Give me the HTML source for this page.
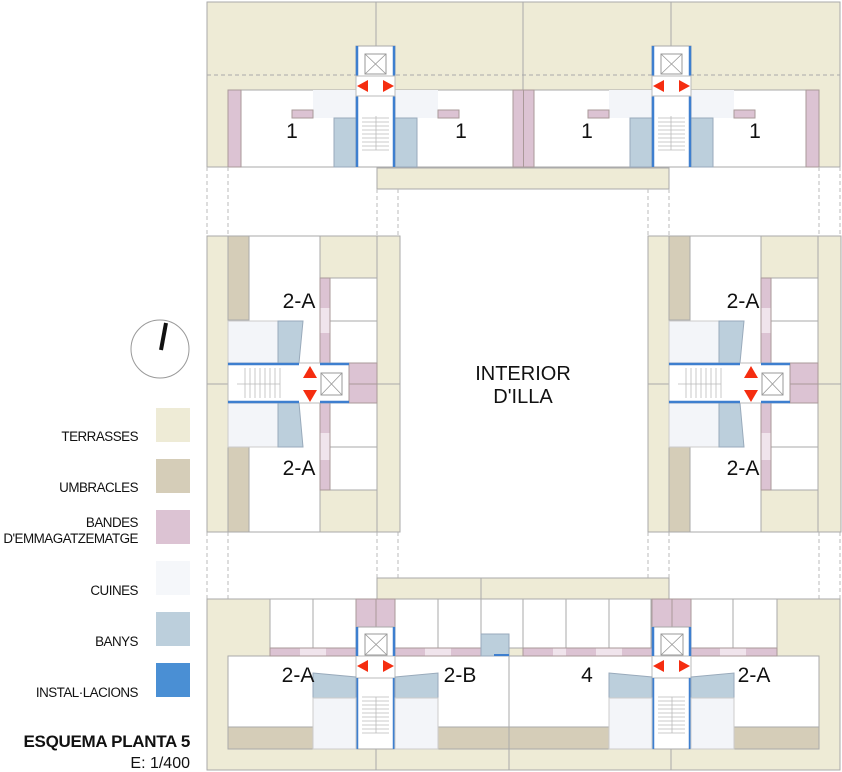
<!DOCTYPE html>
<html><head><meta charset="utf-8"><style>
html,body{margin:0;padding:0;background:#fff;}
svg{display:block;}
text{font-family:"Liberation Sans",Arial,sans-serif;fill:#111;}
</style></head><body>
<svg width="842" height="772" viewBox="0 0 842 772" xmlns="http://www.w3.org/2000/svg">
<defs>
<g id="topmod">
  <rect x="228" y="90" width="295" height="77" fill="#fff" stroke="#aaa"/>
  <rect x="228" y="90" width="13" height="77" fill="#dcc3d3" stroke="#a99"/>
  <rect x="513" y="90" width="10.5" height="77" fill="#dcc3d3" stroke="#a99"/>
  <rect x="313" y="90" width="125" height="28" fill="#f3f5f9"/>
  <rect x="292" y="110" width="21" height="8" fill="#dcc3d3" stroke="#a99"/>
  <rect x="438" y="110" width="21" height="8" fill="#dcc3d3" stroke="#a99"/>
  <rect x="334" y="118" width="23" height="49" fill="#bccfdc" stroke="#9ab"/>
  <rect x="395" y="118" width="22" height="49" fill="#bccfdc" stroke="#9ab"/>
  <rect x="356" y="46" width="39" height="121" fill="#fff" stroke="#aaa"/>
  <rect x="365" y="54" width="21" height="20" fill="#fff" stroke="#999"/>
  <path d="M365 54L386 74M386 54L365 74" stroke="#999" stroke-width="0.8"/>
  <path d="M362 118H389M362 122H389M362 126H389M362 130H389M362 134H389M362 138H389M362 142H389M362 146H389M362 150H389M376 116V150" stroke="#bbb" stroke-width="0.8"/>
  <line x1="357" y1="46" x2="357" y2="76" stroke="#3e7fcf" stroke-width="2.5"/>
  <line x1="394" y1="46" x2="394" y2="76" stroke="#3e7fcf" stroke-width="2.5"/>
  <line x1="357" y1="96" x2="357" y2="167" stroke="#3e7fcf" stroke-width="2.5"/>
  <line x1="394" y1="96" x2="394" y2="167" stroke="#3e7fcf" stroke-width="2.5"/>
  <rect x="356" y="76" width="39" height="20" fill="#fff" stroke="#bbb"/>
  <polygon points="357,86 368,80 368,92" fill="#f52d10"/>
  <polygon points="394,86 383,80 383,92" fill="#f52d10"/>
</g>
<g id="sidemod">
  <rect x="207" y="236" width="21" height="296" fill="#eeebd6" stroke="#aaa"/>
  <rect x="228" y="236" width="21" height="84" fill="#d5cdb8" stroke="#aaa"/>
  <rect x="228" y="447" width="21" height="85" fill="#d5cdb8" stroke="#aaa"/>
  <rect x="249" y="236" width="71" height="296" fill="#fff" stroke="#aaa"/>
  <rect x="320" y="236" width="80" height="42" fill="#eeebd6" stroke="#aaa"/>
  <rect x="320" y="490" width="80" height="42" fill="#eeebd6" stroke="#aaa"/>
  <rect x="377" y="236" width="23" height="296" fill="#eeebd6" stroke="#aaa"/>
  <line x1="207" y1="384" x2="228" y2="384" stroke="#aaa"/>
  <line x1="377" y1="384" x2="400" y2="384" stroke="#aaa"/>
  <rect x="330" y="278" width="47" height="212" fill="#fff" stroke="#aaa"/>
  <path d="M330 321H377M330 447H377" stroke="#aaa"/>
  <rect x="320" y="278" width="10" height="212" fill="#dcc3d3" stroke="#a99"/>
  <rect x="320.5" y="308" width="9" height="25" fill="#f0e4ec"/>
  <rect x="320.5" y="433" width="9" height="27" fill="#f0e4ec"/>
  <rect x="228" y="321" width="50" height="42" fill="#f3f5f9" stroke="#ccc"/>
  <rect x="228" y="403" width="50" height="44" fill="#f3f5f9" stroke="#ccc"/>
  <polygon points="278,321 303,321 299,363 278,363" fill="#bccfdc" stroke="#9ab"/>
  <polygon points="278,403 299,403 303,447 278,447" fill="#bccfdc" stroke="#9ab"/>
  <rect x="228" y="363" width="121" height="40" fill="#fff" stroke="#bbb"/>
  <path d="M245 368V398M250 368V398M255 368V398M260 368V398M265 368V398M270 368V398M275 368V398M280 368V398M237 384H280" stroke="#bbb" stroke-width="0.8"/>
  <rect x="321" y="373" width="21" height="22" fill="#fff" stroke="#999"/>
  <path d="M321 373L342 395M342 373L321 395" stroke="#999" stroke-width="0.8"/>
  <rect x="349" y="363" width="28" height="40" fill="#dcc3d3" stroke="#a99"/>
  <line x1="349" y1="384" x2="377" y2="384" stroke="#a99"/>
  <path d="M228 364H299M320 364H349M228 402H299M320 402H349" stroke="#3e7fcf" stroke-width="2.5"/>
  <polygon points="310,366 303,378 317,378" fill="#f52d10"/>
  <polygon points="310,402 303,390 317,390" fill="#f52d10"/>
</g>
<g id="core">
  <rect x="356" y="599" width="39" height="28" fill="#dcc3d3" stroke="#a99"/>
  <line x1="376" y1="599" x2="376" y2="627" stroke="#a99"/>
  <rect x="356" y="627" width="39" height="122" fill="#fff" stroke="#aaa"/>
  <rect x="365" y="634" width="22" height="21" fill="#fff" stroke="#999"/>
  <path d="M365 634L387 655M387 634L365 655" stroke="#999" stroke-width="0.8"/>
  <path d="M362 697H389M362 701H389M362 705H389M362 709H389M362 713H389M362 717H389M362 721H389M362 725H389M362 729H389M362 733H389M376 697V733" stroke="#bbb" stroke-width="0.8"/>
  <rect x="356" y="656" width="39" height="22" fill="#fff" stroke="#bbb"/>
  <path d="M357 627V656M394 627V656M357 678V749M394 678V749" stroke="#3e7fcf" stroke-width="2.5"/>
  <polygon points="357,666 368,660 368,672" fill="#f52d10"/>
  <polygon points="394,666 383,660 383,672" fill="#f52d10"/>
  <polygon points="313,673 356,677 356,698 313,698" fill="#bccfdc" stroke="#9ab"/>
  <polygon points="395,677 438,673 438,698 395,698" fill="#bccfdc" stroke="#9ab"/>
  <rect x="313" y="698" width="43" height="51" fill="#f3f5f9" stroke="#ccc"/>
  <rect x="395" y="698" width="43" height="51" fill="#f3f5f9" stroke="#ccc"/>
</g>
</defs>

<rect x="207" y="2" width="633" height="165" fill="#eeebd6" stroke="#aaa"/>
<path d="M376 2V75M523 2V90M671 2V75" stroke="#aaa"/>
<line x1="207" y1="75" x2="840" y2="75" stroke="#aaa" stroke-dasharray="4,3"/>
<use href="#topmod"/>
<use href="#topmod" transform="translate(1047,0) scale(-1,1)"/>
<rect x="377" y="168" width="292" height="21" fill="#eeebd6" stroke="#aaa"/>

<g stroke="#bbb" stroke-dasharray="4,3">
<path d="M207 167V236M228 167V236M377 189V236M398 189V236M648 189V236M669 189V236M819 167V236M840 167V236"/>
<path d="M207 532V599M228 532V599M377 532V578M398 532V578M648 532V578M669 532V578M819 532V599M840 532V599"/>
</g>

<use href="#sidemod"/>
<use href="#sidemod" transform="translate(441,0)"/>

<rect x="377" y="578" width="292" height="21" fill="#eeebd6" stroke="#aaa"/>
<line x1="481" y1="578" x2="481" y2="599" stroke="#aaa"/>
<rect x="207" y="599" width="633" height="171" fill="#eeebd6" stroke="#aaa"/>
<rect x="228" y="656" width="591" height="93" fill="#fff" stroke="#aaa"/>
<path d="M376 749V770M509 656V770M671 749V770" stroke="#aaa"/>
<rect x="270" y="599" width="86" height="49" fill="#fff" stroke="#aaa"/>
<line x1="313" y1="599" x2="313" y2="648" stroke="#aaa"/>
<rect x="395" y="599" width="256" height="49" fill="#fff" stroke="#aaa"/>
<path d="M438 599V648M481 599V648M523 599V648M566 599V648M609 599V648" stroke="#aaa"/>
<rect x="690" y="599" width="87" height="49" fill="#fff" stroke="#aaa"/>
<line x1="733" y1="599" x2="733" y2="648" stroke="#aaa"/>
<g fill="#dcc3d3" stroke="#a99">
<rect x="270" y="648" width="86" height="8"/>
<rect x="395" y="648" width="86" height="8"/>
<rect x="523" y="648" width="129" height="8"/>
<rect x="690" y="648" width="87" height="8"/>
</g>
<g fill="#f0e4ec">
<rect x="300" y="648.5" width="26" height="7"/>
<rect x="425" y="648.5" width="26" height="7"/>
<rect x="553" y="648.5" width="13" height="7"/>
<rect x="596" y="648.5" width="26" height="7"/>
<rect x="720" y="648.5" width="26" height="7"/>
</g>
<rect x="481" y="634" width="28" height="22" fill="#bccfdc" stroke="#9ab"/>
<line x1="494" y1="655" x2="509" y2="655" stroke="#3e7fcf" stroke-width="2"/>
<g fill="#d5cdb8" stroke="#aaa">
<rect x="228" y="727" width="85" height="22"/>
<rect x="438" y="727" width="171" height="22"/>
<rect x="733" y="727" width="86" height="22"/>
</g>
<line x1="509" y1="727" x2="509" y2="749" stroke="#aaa"/>
<use href="#core"/>
<use href="#core" transform="translate(296,0)"/>

<g font-size="21">
<text x="292" y="138" text-anchor="middle">1</text>
<text x="461" y="138" text-anchor="middle">1</text>
<text x="587" y="138" text-anchor="middle">1</text>
<text x="755" y="138" text-anchor="middle">1</text>
<text x="299" y="308" text-anchor="middle">2-A</text>
<text x="299" y="475" text-anchor="middle">2-A</text>
<text x="743" y="308" text-anchor="middle">2-A</text>
<text x="743" y="475" text-anchor="middle">2-A</text>
<text x="298" y="682" text-anchor="middle">2-A</text>
<text x="460" y="682" text-anchor="middle">2-B</text>
<text x="587" y="682" text-anchor="middle">4</text>
<text x="754" y="682" text-anchor="middle">2-A</text>
</g>
<g font-size="20">
<text x="523" y="380" text-anchor="middle">INTERIOR</text>
<text x="523" y="403" text-anchor="middle">D'ILLA</text>
</g>

<circle cx="160" cy="349" r="29" fill="#fff" stroke="#999"/>
<line x1="166" y1="323" x2="161" y2="350" stroke="#111" stroke-width="4"/>

<rect x="156" y="408" width="34" height="34" fill="#eeebd6"/>
<rect x="156" y="459" width="34" height="34" fill="#d5cdb8"/>
<rect x="156" y="510" width="34" height="34" fill="#dcc3d3"/>
<rect x="156" y="561" width="34" height="34" fill="#f5f7fa"/>
<rect x="156" y="612" width="34" height="34" fill="#bccfdc"/>
<rect x="156" y="663" width="34" height="34" fill="#4a8fd4"/>
<g font-size="13.4" text-anchor="end" letter-spacing="-0.5">
<text x="138" y="441">TERRASSES</text>
<text x="138" y="492">UMBRACLES</text>
<text x="138" y="527">BANDES</text>
<text x="138" y="543">D'EMMAGATZEMATGE</text>
<text x="138" y="595">CUINES</text>
<text x="138" y="646">BANYS</text>
<text x="138" y="697">INSTAL·LACIONS</text>
</g>
<text x="190" y="747" font-size="17" font-weight="bold" text-anchor="end" letter-spacing="-0.3">ESQUEMA PLANTA 5</text>
<text x="190" y="768" font-size="16" text-anchor="end">E: 1/400</text>
</svg>
</body></html>
